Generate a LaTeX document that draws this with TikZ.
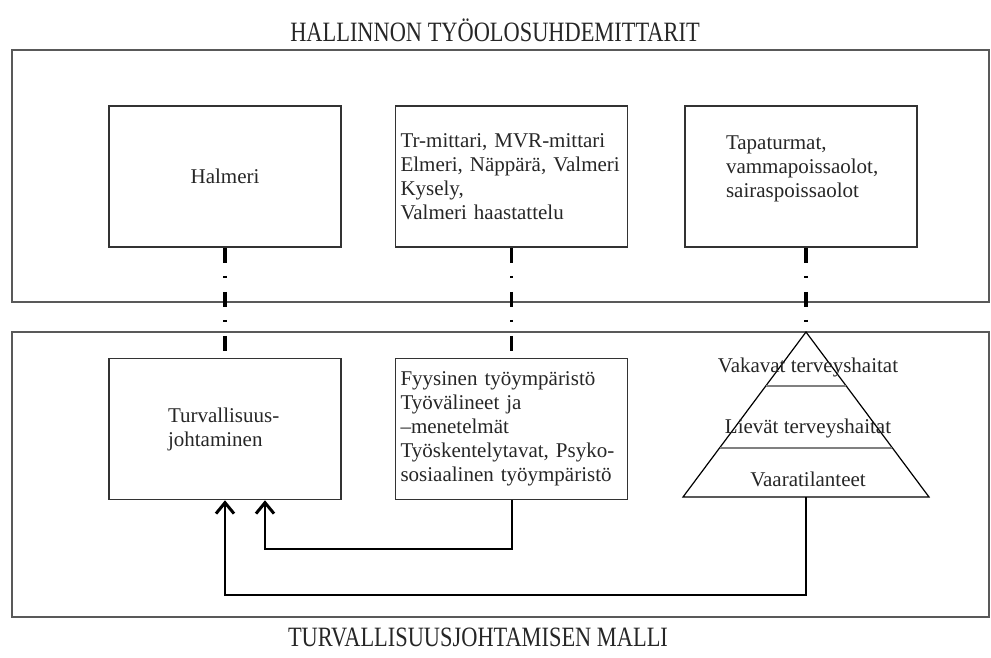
\documentclass[tikz,border=0pt]{standalone}
\usepackage{fontspec}
\setmainfont{Liberation Serif}
\usetikzlibrary{positioning}
\usetikzlibrary{arrows.meta}
\tikzset{edge/.style = {->,> = {Straight Barb[length=11pt,width=18pt,line width=3pt]},line width=2pt}}

\begin{document}
\begin{tikzpicture}[x=1pt,y=-1pt,
    box/.style={draw=black!80,line width=1.5pt,minimum width=232pt,minimum height=141pt,inner xsep=4pt,font=\fontsize{21}{24}\selectfont,text=black!85},
    title/.style={font=\fontsize{28}{30}\selectfont,text=black!85},
    frame/.style={draw=black!65,line width=1.6pt},
    link/.style={line width=3.5pt,dash pattern=on 15pt off 13pt on 2pt off 14pt},
    level/.style={font=\fontsize{21}{24}\selectfont,text=black!85}]
                \useasboundingbox (0,0) rectangle (991,657);
                \node[title] (ylaotsikko) at (495,30) {\scalebox{0.8}[1]{HALLINNON TYÖOLOSUHDEMITTARIT}};
                \node[title] (alaotsikko) at (478,637) {\scalebox{0.8}[1]{TURVALLISUUSJOHTAMISEN MALLI}};
                \draw[frame] (12,50) rectangle (989,302);
                \draw[frame] (12,332) rectangle (989,617);

                \node[box] (halmeri) at (225,176.5) {Halmeri};
                \node[box,text width=222pt,align=left] (mittarit) [right=53pt of halmeri] {Tr-mittari, MVR-mittari\\ Elmeri, Näppärä, Valmeri\\ Kysely,\\ Valmeri haastattelu};
                \node[box,text width=150pt,align=left] (tapaturmat) [right=56pt of mittarit] {Tapaturmat,\\ vammapoissaolot,\\ sairaspoissaolot\\[-4pt]~};
                \node[box,text width=114pt,align=left] (turva) [below=110pt of halmeri] {Turvallisuus-\\ johtaminen};
                \node[box,text width=222pt,align=left] (ymparisto) [below=110pt of mittarit] {Fyysinen työympäristö\\ Työvälineet ja\\ –menetelmät\\ Työskentelytavat, Psyko-\\ sosiaalinen työympäristö};

                % pyramidi
                \coordinate (huippu) at (806,332);
                \coordinate (kanta) at (806,497);
                \draw[line width=1.2pt] (huippu) -- (683,497) -- (929,497) -- cycle;
                \draw[black!50,line width=1.5pt] (766,386) -- (846,386);
                \draw[black!50,line width=1.5pt] (720,448) -- (892,448);
                \node[level] (vakavat) at (808,367) {Vakavat terveyshaitat};
                \node[level] (lievat) at (808,428) {Lievät terveyshaitat};
                \node[level] (vaara) at (808,479) {Vaaratilanteet};

                \draw[link] (halmeri) -- (turva);
                \draw[link] (mittarit) -- (ymparisto);
                \draw[link] (huippu |- tapaturmat.south) -- (huippu);

                \draw[edge] (kanta) -- ++(0,98) -| (turva.south);
                \draw[edge] (ymparisto.south) -- ++(0,49) -| ([xshift=40pt]turva.south);
            \end{tikzpicture}
\end{document}
